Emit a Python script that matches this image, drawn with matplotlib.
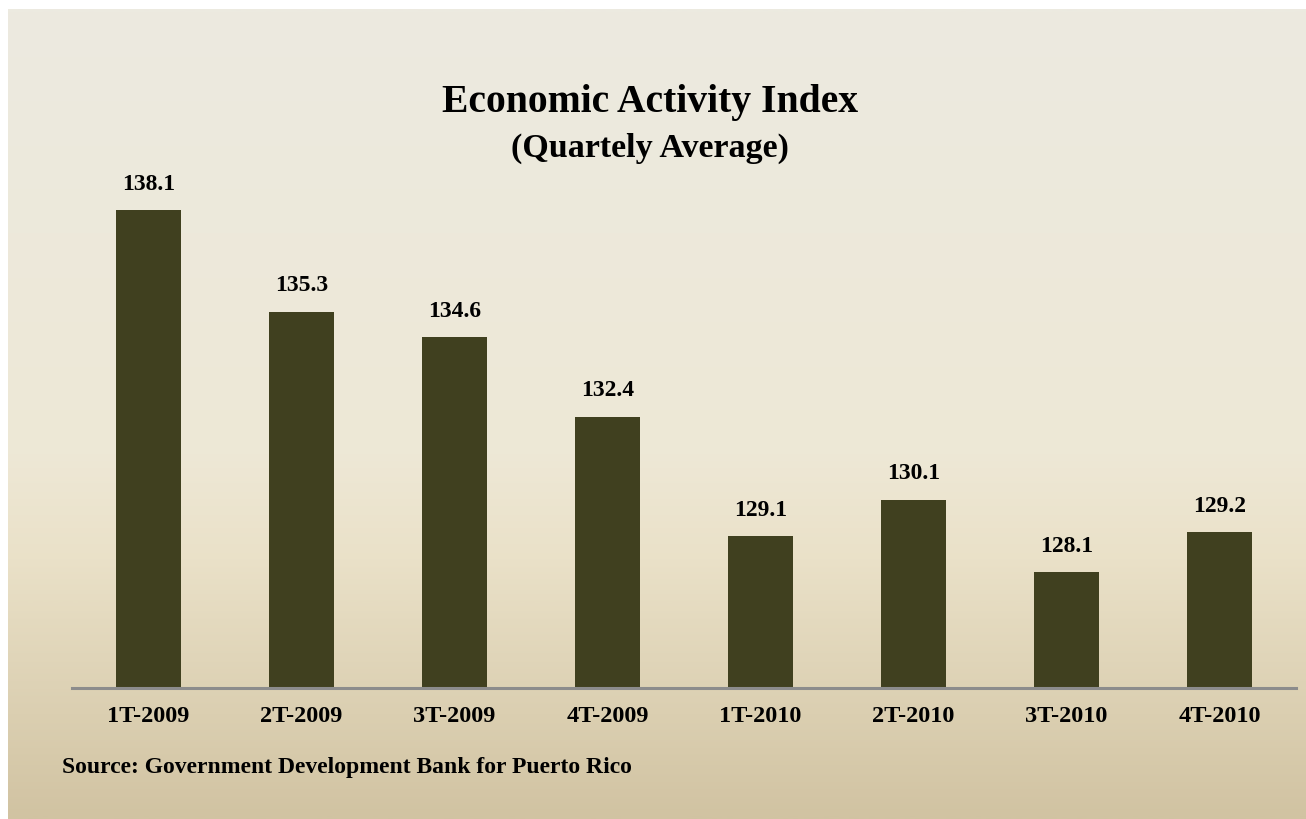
import numpy as np
import matplotlib.pyplot as plt
from matplotlib.colors import LinearSegmentedColormap

quarters = ["1T-2009", "2T-2009", "3T-2009", "4T-2009",
            "1T-2010", "2T-2010", "3T-2010", "4T-2010"]
values = [138.1, 135.3, 134.6, 132.4, 129.1, 130.1, 128.1, 129.2]

BAR_COLOR = "#40401F"
AXIS_COLOR = "#8C8C8C"
FONT = "Liberation Serif"

W, H = 1306, 819
fig = plt.figure(figsize=(W / 100, H / 100), dpi=100, facecolor="white")

# gradient background (white strip left/top)
bg = fig.add_axes([8 / W, 0, 1 - 8 / W, 1 - 9 / H], zorder=0)
grad_cmap = LinearSegmentedColormap.from_list(
    "bg", [(0.0, "#ECEAE0"), (0.55, "#EEE8D6"), (0.68, "#EAE1C8"), (1.0, "#D1C3A2")])
grad = np.linspace(0, 1, 400).reshape(-1, 1)
bg.imshow(grad, aspect="auto", cmap=grad_cmap, extent=[0, 1, 1, 0])
bg.set_axis_off()

ymin = 124.9
px_per_unit = 36.2
base_px = 688
ax_h = 600
ax = fig.add_axes([72 / W, 1 - base_px / H, (1296 - 72) / W, ax_h / H], zorder=1)
ax.set_facecolor("none")

x = np.arange(len(values))
ax.bar(x, values, width=0.43, color=BAR_COLOR, bottom=0)
ax.set_ylim(ymin, ymin + ax_h / px_per_unit)
ax.set_xlim(-0.5, len(values) - 0.5)

for xi, v in zip(x, values):
    ax.annotate(f"{v:.1f}", (xi, v), xytext=(0, 11), textcoords="offset points",
                ha="center", va="bottom", fontsize=17, fontweight="bold",
                family=FONT, color="black")

for s in ["top", "right", "left"]:
    ax.spines[s].set_visible(False)
ax.spines["bottom"].set_color(AXIS_COLOR)
ax.spines["bottom"].set_linewidth(2.2)
ax.spines["bottom"].set_zorder(5)
ax.set_yticks([])
ax.set_xticks(x)
ax.set_xticklabels(quarters, fontsize=17.5, fontweight="bold", family=FONT)
ax.tick_params(axis="x", length=0, pad=13)

fig.text(650 / W, 1 - 112 / H, "Economic Activity Index", ha="center", va="baseline",
         fontsize=28.5, fontweight="bold", family=FONT)
fig.text(650 / W, 1 - 157 / H, "(Quartely Average)", ha="center", va="baseline",
         fontsize=24.5, fontweight="bold", family=FONT)
fig.text(62 / W, 1 - 773 / H, "Source: Government Development Bank for Puerto Rico",
         ha="left", va="baseline", fontsize=17, fontweight="bold", family=FONT)

plt.savefig("out.png", dpi=100)
